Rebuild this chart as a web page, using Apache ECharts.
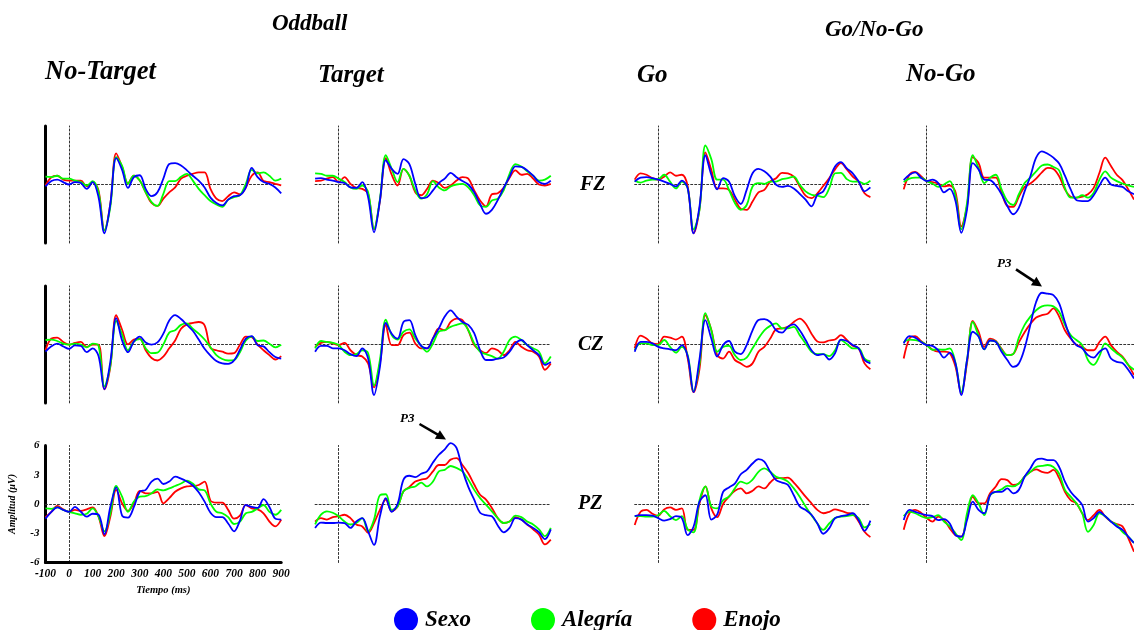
<!DOCTYPE html>
<html><head><meta charset="utf-8">
<script src="https://cdn.jsdelivr.net/npm/echarts@6/dist/echarts.min.js"></script>
<style>html,body{margin:0;padding:0;background:#fff}#c{width:1134px;height:630px}</style>
</head><body><div id="c"></div>
<script>
// ---------- DATA ----------
const TIME = [-100,-75,-50,-25,0,25,50,75,100,125,150,175,200,225,250,275,300,325,350,375,400,425,450,475,500,525,550,575,600,625,650,675,700,725,750,775,800,825,850,875,900];
const SERIES_NAMES = ['Sexo','Alegría','Enojo'];
const COLUMN_TITLES = ['No-Target','Target','Go','No-Go'];
const GROUP_TITLES = ['Oddball','Go/No-Go'];
const ROW_TITLES = ['FZ','CZ','PZ'];
const TIME_TICKS = [-100,0,100,200,300,400,500,600,700,800,900];
const AMP_TICKS = [-6,-3,0,3,6];
const ANNOTATION = 'P3';

// FZ – No-Target
const fzNtSexo    = [-0.2,0.35,0.5,0.25,0,0.25,0.15,-0.45,0.25,-1.3, -5.0,-2.0,2.7,1.5,-0.35,0.75,0.95,-0.45,-1.2,-0.8,0.6,2.1,2.2,1.95, 1.45,0.9,0.4,-0.3,-1.35,-1.9,-2.15,-1.55,-1.2,-1.1,-0.3,1.7,0.75,0.25,0.07,-0.3,-0.9];
const fzNtAlegria = [0.8,0.75,0.9,0.6,0.6,0.4,0.25,-0.1,0.35,-0.8, -4.7,-2.3,2.8,1.9,0.07,0.9,0.4,-0.8,-1.8,-2.2,-0.95,0.35,0.35,0.8, 1.1,0.4,-0.45,-1.1,-1.7,-2.05,-2.3,-1.55,-1.3,-1.1,0.07,1.5,1.15,1.25,0.9,0.4,0.6];
const fzNtEnojo   = [-0.1,0.75,0.9,0.5,0.4,0.4,0.4,-0.2,0.25,-0.6, -4.7,-2.0,3.2,1.8,0.1,0.9,0.4,-0.8,-1.9,-2.2,-1.45,-0.8,-0.3,0.6, 0.9,1.1,1.25,1.25,-0.45,-1.45,-1.7,-1.2,-0.8,-1.0,-0.3,0.9,1.25,0.35,0.25,0.07,-0.1];
// CZ – No-Target
const czNtSexo    = [-0.75,-0.2,0.07,-0.2,-0.45,-0.1,-0.15,-0.8,-0.4,-1.2, -4.6,-1.8,2.7,0.4,-0.8,0.3,0.8,0.2,-0.03,0.2,1.1,2.45,3.0,2.6, 2.0,1.4,0.5,-0.45,-1.15,-1.7,-1.95,-2.0,-1.65,-0.55,0.6,0.85,-0.1,-0.2,-0.8,-1.3,-1.45];
const czNtAlegria = [0.45,0.5,0.35,0.07,-0.03,0.07,-0.03,-0.3,0.07,-0.15, -4.3,-2.2,2.4,1.0,-0.6,0.3,0.55,-0.4,-0.9,-0.85,0.0,1.2,1.45,2.0, 2.15,1.6,1.1,0.5,-0.3,-1.1,-1.5,-1.65,-1.6,-0.8,0.4,0.8,0.35,0.4,0.07,-0.3,-0.03];
const czNtEnojo   = [-0.6,0.6,0.7,0.25,-0.03,0.15,0.25,-0.25,-0.03,-0.03, -4.6,-2.3,3.0,1.5,0.0,0.5,0.6,-0.6,-1.4,-1.65,-1.25,-0.4,0.4,1.6, 2.05,2.2,2.3,1.95,-0.35,-0.6,-0.75,-0.95,-0.9,-0.03,0.8,0.75,-0.03,-0.6,-1.1,-1.55,-1.2];
// PZ – No-Target
const pzNtSexo    = [-1.5,-0.8,-0.35,-0.6,-0.8,-0.3,-0.8,-1.3,-1.0,-1.1, -3.1,-0.3,1.7,-1.2,-1.4,-0.3,1.25,1.45,2.3,2.6,2.05,2.3,2.8,2.6, 2.3,1.9,1.2,0.24,-0.9,-1.35,-1.35,-2.0,-2.8,-1.7,-0.1,-0.3,-0.4,0.5,-0.3,-1.5,-1.6];
const pzNtAlegria = [-0.45,-0.5,-0.35,-0.6,-0.8,-0.95,-1.1,-1.0,-0.45,-1.3, -2.8,-1.0,1.85,0.75,-0.8,0.25,0.75,0.8,1.1,1.5,1.4,1.6,1.85,2.1, 2.4,2.1,1.5,1.4,0.07,-0.8,-0.95,-1.35,-2.05,-1.8,-0.95,-0.8,-0.45,-0.1,-0.8,-1.1,-0.6];
const pzNtEnojo   = [-1.35,-0.8,-0.2,-0.55,-0.8,-0.6,-0.7,-0.55,-0.35,-1.3, -3.3,-1.3,1.45,0.07,-0.7,0.07,1.35,1.1,1.1,1.25,0.07,0.6,1.25,1.6, 1.8,1.85,1.95,2.3,0.35,0.15,0.15,-0.6,-1.5,-1.2,-0.1,-0.45,-0.55,-0.95,-1.8,-2.3,-1.6];

// FZ – Target
const fzTSexo     = [0.6,0.65,0.5,0.4,0.25,0.15,-0.3,-0.35,0.25,-1.3, -4.9,-1.65,2.5,1.6,1.1,2.6,2.1,0.07,-1.4,-1.3,-0.6,0.15,0.6,1.2, 0.75,0.35,0.0,-0.8,-2.0,-3.0,-2.6,-1.6,-0.35,0.8,1.85,1.8,1.45,0.9,0.25,0.07,0.4];
const fzTAlegria  = [1.15,1.1,0.9,0.9,0.6,0.25,-0.3,-0.45,-0.1,-0.8, -4.55,-1.5,3.0,1.6,0.25,1.6,0.9,-0.6,-1.45,-1.0,0.35,-0.3,-0.6,-0.2, 0.0,0.07,-0.3,-1.1,-2.15,-2.3,-1.65,-1.45,-0.6,1.1,2.1,1.85,1.35,0.9,0.4,0.5,0.9];
const fzTEnojo    = [0.35,0.4,0.6,0.75,0.25,0.75,0.07,-0.35,-0.45,-0.95, -4.6,-1.7,2.7,1.0,-0.1,1.6,0.9,-0.8,-1.1,-0.45,0.4,0.15,-0.35,-0.1, 0.4,0.75,0.6,-0.6,-1.65,-2.25,-1.0,-0.9,-0.35,0.7,1.45,1.0,1.1,0.6,0.0,-0.1,0.07];
// CZ – Target
const czTSexo     = [-0.75,-0.15,-0.15,-0.4,-0.4,-0.6,-1.0,-1.2,-0.4,-1.45, -5.2,-2.3,2.2,1.1,0.6,2.3,2.5,0.95,-0.15,-0.4,0.6,1.65,2.85,3.5, 2.85,2.3,2.0,1.15,-0.6,-1.6,-1.6,-1.45,-1.35,-0.75,0.1,0.45,-0.07,-0.6,-1.1,-2.1,-1.8];
const czTAlegria  = [-0.4,0.35,0.25,0.15,-0.07,-0.75,-1.1,-1.0,-0.6,-0.9, -4.2,-1.6,2.55,0.95,0.5,1.3,1.55,0.6,-0.15,-0.75,0.1,1.3,1.45,1.8, 2.0,2.15,1.45,0.1,-0.75,-1.0,-1.2,-1.45,-0.75,0.45,0.8,0.45,-0.07,-0.4,-0.75,-1.95,-1.25];
const czTEnojo    = [-0.25,0.15,0.25,0.1,-0.07,0.15,-0.6,-1.1,-1.25,-1.95, -4.4,-1.95,2.0,-0.07,-0.07,0.95,1.2,0.1,-0.4,-0.4,0.6,1.65,1.45,2.3, 2.65,2.5,1.45,-0.07,-0.6,-0.9,-0.4,-0.6,-1.1,-0.6,0.25,-0.25,-0.6,-0.75,-1.25,-2.6,-1.95];
// PZ – Target
const pzTSexo     = [-2.45,-1.9,-1.95,-1.95,-1.9,-1.95,-2.45,-1.8,-1.45,-2.8, -4.2,-1.25,0.6,-0.8,0.0,2.5,2.9,2.75,3.1,3.35,4.25,5.05,5.6,6.25, 5.75,3.5,1.75,0.45,-0.9,-1.15,-1.25,-2.2,-2.9,-2.45,-1.45,-1.6,-2.1,-2.45,-2.9,-3.6,-2.6];
const pzTAlegria  = [-2.1,-1.1,-0.75,-0.9,-1.25,-1.8,-2.1,-1.95,-1.45,-2.8, -1.6,0.9,1.0,-0.6,-0.25,1.3,1.65,1.8,2.2,1.8,2.3,3.35,3.5,3.9, 3.7,3.35,2.5,1.45,0.6,-0.07,-0.75,-1.45,-1.95,-1.8,-1.2,-1.35,-1.8,-2.1,-2.6,-3.3,-2.45];
const pzTEnojo    = [-1.8,-1.45,-1.6,-1.35,-1.25,-1.1,-1.45,-2.1,-2.3,-2.95, -1.95,-0.6,0.45,-0.75,-0.25,1.3,1.75,2.3,2.5,2.65,3.35,4.0,4.0,4.55, 4.7,4.0,3.15,2.0,0.95,0.45,-0.4,-1.45,-1.95,-1.8,-1.35,-1.6,-2.1,-2.6,-3.15,-4.15,-3.65];

// FZ – Go
const fzGoSexo    = [0.3,0.7,0.75,0.65,0.5,0.3,0.07,-0.2,0.4,-0.4, -5.0,-2.25,3.0,1.0,-0.5,0.65,0.3,-1.2,-2.0,-0.55,1.15,1.6,1.35,0.8, -0.03,-0.25,-0.15,-0.4,-0.95,-1.55,-2.25,-1.05,-0.7,0.5,1.85,2.3,1.65,1.15,0.3,-0.7,-0.3];
const fzGoAlegria = [0.4,0.2,0.4,0.5,0.55,1.0,0.3,-0.4,0.3,-0.4, -4.6,-2.6,4.0,2.6,0.5,0.5,-0.55,-1.9,-2.6,-2.1,-0.2,0.15,0.07,0.3, 0.3,0.55,0.65,0.8,-0.03,-0.7,-1.05,-1.15,-1.3,-0.4,1.15,1.2,0.55,0.3,0.3,0.07,0.4];
const fzGoEnojo   = [0.5,1.15,1.0,0.65,0.5,0.8,1.25,0.9,1.0,-0.2, -5.0,-2.5,3.3,1.5,-0.4,-0.4,-0.55,-1.55,-2.5,-2.6,-1.75,-0.8,-0.55,0.3, 0.65,1.2,1.15,0.8,-0.2,-1.15,-1.4,-0.9,-0.15,0.65,1.55,2.2,1.55,0.8,0.3,-0.9,-1.3];
// CZ – Go
const czGoSexo    = [-0.75,0.25,0.25,0.1,-0.25,-0.4,-0.5,-0.6,-0.07,-1.25, -4.9,-1.5,2.5,0.6,-1.25,-0.07,0.35,-0.75,-1.0,-0.07,1.45,2.5,2.6,2.3, 1.45,1.2,1.8,2.05,1.45,0.45,-0.6,-1.1,-1.0,-1.55,-0.9,0.5,0.35,-0.07,-0.4,-1.6,-1.95];
const czGoAlegria = [-0.6,0.1,0.1,-0.07,-0.07,0.45,-0.25,-0.85,-0.25,-1.1, -4.8,-2.0,3.2,1.45,-0.75,-0.25,-0.15,-1.1,-1.6,-1.35,-0.4,0.6,1.45,1.9, 2.15,1.65,1.65,1.8,0.95,0.1,-0.75,-1.0,-1.0,-1.2,-0.6,0.45,0.03,-0.4,-0.4,-1.45,-1.75];
const czGoEnojo   = [-0.4,0.9,0.6,0.1,0.03,0.8,0.7,0.5,0.8,-1.45, -4.9,-2.5,3.0,1.5,-1.1,-1.45,-0.75,-1.6,-1.95,-2.3,-1.95,-0.75,-0.25,0.6, 1.55,1.65,1.8,2.3,2.65,2.15,1.1,0.3,0.2,0.4,0.5,0.95,0.45,-0.15,-0.4,-1.95,-2.55];
// PZ – Go
const pzGoSexo    = [-1.25,-1.15,-1.15,-1.2,-1.45,-1.7,-1.55,-1.25,-1.45,-3.2, -2.3,0.25,0.9,-1.6,-1.1,1.25,1.7,2.1,3.05,3.5,4.15,4.6,4.35,3.3, 2.45,2.2,1.95,0.9,-0.25,-0.6,-1.1,-2.0,-3.05,-2.5,-1.45,-1.25,-1.15,-0.95,-1.65,-2.75,-1.7];
const pzGoAlegria = [-1.25,-1.25,-1.3,-1.3,-1.15,-0.7,-1.25,-1.65,-1.25,-2.6, -2.9,0.4,1.8,-0.25,-0.45,0.4,0.75,1.6,2.3,2.1,2.5,3.3,3.65,3.3, 2.8,2.6,2.3,1.6,0.75,-0.25,-1.15,-2.0,-2.65,-2.0,-1.45,-1.3,-1.25,-1.15,-1.45,-2.4,-2.05];
const pzGoEnojo   = [-2.15,-0.8,-0.6,-1.0,-1.2,-0.55,-0.35,-0.6,-0.45,-2.65, -2.65,0.07,1.8,-0.45,-1.35,0.0,0.75,1.35,1.6,1.1,1.35,1.8,1.6,2.2, 2.65,2.65,2.7,2.2,1.5,0.75,0.07,-0.6,-0.95,-0.8,-0.55,-0.7,-0.9,-1.0,-1.8,-2.85,-3.4];

// FZ – No-Go
const fzNgSexo    = [0.45,1.0,1.25,0.7,0.35,0.5,0.15,-0.8,-0.45,-1.7, -4.95,-2.55,2.2,1.55,0.5,0.45,-0.1,-1.0,-2.2,-3.05,-2.4,-0.7,0.85,2.75, 3.4,3.15,2.75,2.15,0.9,-0.5,-1.6,-1.7,-1.7,-1.1,-0.1,0.7,0.0,-0.15,-0.25,-0.7,-1.0];
const fzNgAlegria = [0.25,0.6,0.7,0.7,0.35,0.1,-0.25,0.0,0.35,-1.2, -4.6,-1.9,3.0,1.7,0.15,0.7,1.0,-0.5,-1.7,-2.1,-1.0,0.15,0.7,1.35, 1.95,2.05,1.8,1.45,-0.35,-1.35,-1.35,-1.1,-1.35,-0.85,0.5,1.35,0.7,0.35,0.1,-0.1,-0.25];
const fzNgEnojo   = [-0.5,1.0,1.3,0.85,0.35,0.25,0.1,-0.2,-0.1,-0.8, -4.3,-2.2,2.8,2.2,0.7,0.7,0.7,-0.85,-2.2,-2.3,-1.25,-0.25,0.1,0.6, 1.25,1.7,1.6,0.85,-0.5,-1.25,-1.35,-1.25,-1.0,-0.35,1.2,2.75,1.9,1.0,0.45,-0.5,-1.55];
// CZ – No-Go
const czNgSexo    = [0.1,0.85,0.7,0.25,-0.07,-0.15,-0.6,-1.35,-0.85,-1.95, -5.2,-1.6,1.3,0.8,-0.5,0.4,0.25,-0.75,-1.6,-2.3,-1.95,-0.4,2.0,4.35, 5.3,5.2,5.05,4.2,2.3,0.7,-0.07,-0.4,-1.1,-1.35,-0.75,-0.4,-1.45,-1.8,-1.9,-2.6,-3.5];
const czNgAlegria = [0.25,0.5,0.45,0.3,-0.07,-0.55,-0.5,-0.55,-0.4,-1.9, -4.9,-1.6,2.3,0.9,-0.5,0.4,0.3,-0.55,-1.1,-1.0,0.7,2.0,2.85,3.5, 3.9,4.0,3.9,3.35,2.0,0.95,0.45,-0.07,-1.6,-2.1,-1.2,0.1,-0.4,-0.9,-1.35,-2.1,-2.6];
const czNgEnojo   = [-1.45,0.6,0.85,0.35,-0.07,-0.55,-0.75,-0.75,-0.9,-2.3, -5.0,-1.9,2.4,1.3,-0.25,0.6,0.35,-0.45,-1.1,-1.0,0.2,1.25,2.1,2.75, 3.0,3.15,3.7,2.85,1.45,0.6,-0.07,-0.25,-0.6,-0.6,0.25,0.8,-0.07,-0.75,-1.25,-2.1,-3.15];
// PZ – No-Go
const pzNgSexo    = [-1.65,-0.6,-0.8,-1.0,-1.15,-1.25,-1.65,-1.55,-2.0,-3.2, -3.35,-1.65,0.25,-0.6,-0.95,0.9,1.25,1.25,1.6,1.1,1.45,2.8,3.65,4.55, 4.65,4.5,4.5,3.8,2.3,1.25,0.6,-0.1,-1.8,-1.45,-0.8,-1.25,-1.8,-2.3,-2.65,-3.35,-4.0];
const pzNgAlegria = [-1.25,-0.8,-0.95,-1.25,-1.45,-1.35,-1.15,-1.8,-2.3,-3.0, -3.7,-0.95,0.9,0.07,-1.15,0.9,1.25,1.5,1.85,1.8,2.1,2.8,3.3,3.8, 3.9,4.0,3.8,3.1,1.45,0.75,0.07,-0.95,-2.85,-2.15,-0.95,-1.25,-1.8,-2.15,-2.85,-3.35,-4.0];
const pzNgEnojo   = [-2.65,-0.95,-0.6,-0.9,-1.45,-1.8,-1.3,-1.65,-2.5,-3.2, -3.35,-1.3,0.75,0.07,0.07,1.1,1.8,2.55,2.45,1.95,2.1,2.8,3.3,3.55, 3.3,3.2,3.5,2.65,1.25,0.4,0.07,-0.95,-1.65,-1.15,-0.6,-1.3,-1.8,-2.05,-2.3,-3.5,-4.9];

// ---------- LAYOUT / STYLE ----------
const COLORS = {'Sexo':'#0000ff','Alegría':'#00ff00','Enojo':'#ff0000'};
const DRAW_ORDER = ['Enojo','Alegría','Sexo'];
const FONT = '"Liberation Serif","Times New Roman",serif';
const COL_LEFT = [45.5, 315.1, 634.7, 903.7];
const COL_WIDTH = 235.7;
const ROW_ZERO = [184.5, 344.4, 504];
const HALF_H = 58.5;

const PANELS = [
  [[fzNtSexo,fzNtAlegria,fzNtEnojo],[fzTSexo,fzTAlegria,fzTEnojo],[fzGoSexo,fzGoAlegria,fzGoEnojo],[fzNgSexo,fzNgAlegria,fzNgEnojo]],
  [[czNtSexo,czNtAlegria,czNtEnojo],[czTSexo,czTAlegria,czTEnojo],[czGoSexo,czGoAlegria,czGoEnojo],[czNgSexo,czNgAlegria,czNgEnojo]],
  [[pzNtSexo,pzNtAlegria,pzNtEnojo],[pzTSexo,pzTAlegria,pzTEnojo],[pzGoSexo,pzGoAlegria,pzGoEnojo],[pzNgSexo,pzNgAlegria,pzNgEnojo]]
];

const dotted = {color:'#333', width:1, type:[2,2]};
const grids=[], xAxes=[], yAxes=[], series=[];
for (let r=0;r<3;r++){
  for (let c=0;c<4;c++){
    const g = grids.length;
    grids.push({left:COL_LEFT[c], width:COL_WIDTH, top:ROW_ZERO[r]-HALF_H, height:2*HALF_H, containLabel:false});
    const xi = xAxes.length, yi = yAxes.length;
    xAxes.push({type:'value', gridIndex:g, min:TIME[0], max:TIME[TIME.length-1],
      axisLine:{onZero:true, lineStyle:dotted}, axisTick:{show:false}, axisLabel:{show:false}, splitLine:{show:false}});
    yAxes.push({type:'value', gridIndex:g, min:AMP_TICKS[0], max:AMP_TICKS[AMP_TICKS.length-1], position:'left',
      axisLine:{onZero:true, lineStyle:dotted}, axisTick:{show:false}, axisLabel:{show:false}, splitLine:{show:false}});
    if (c===0){
      const labelled = (r===2);
      yAxes.push({type:'value', gridIndex:g, min:AMP_TICKS[0], max:AMP_TICKS[AMP_TICKS.length-1], interval:3, position:'left',
        axisLine:{onZero:false, lineStyle:{color:'#000', width:3}}, axisTick:{show:false}, splitLine:{show:false},
        axisLabel:{show:labelled, margin:6, color:'#000', fontFamily:FONT, fontStyle:'italic', fontWeight:'bold', fontSize:11},
        name: labelled ? 'Amplitud (µV)' : '', nameLocation:'middle', nameGap:28, nameRotate:90,
        nameTextStyle:{color:'#000', fontFamily:FONT, fontStyle:'italic', fontWeight:'bold', fontSize:10}});
      if (labelled){
        xAxes.push({type:'value', gridIndex:g, min:TIME[0], max:TIME[TIME.length-1], interval:100, position:'bottom',
          axisLine:{onZero:false, lineStyle:{color:'#000', width:3}}, axisTick:{show:false}, splitLine:{show:false},
          axisLabel:{margin:6, color:'#000', fontFamily:FONT, fontStyle:'italic', fontWeight:'bold', fontSize:11.5},
          name:'Tiempo (ms)', nameLocation:'middle', nameGap:22,
          nameTextStyle:{color:'#000', fontFamily:FONT, fontStyle:'italic', fontWeight:'bold', fontSize:10.5}});
      }
    }
    const sets = PANELS[r][c];
    DRAW_ORDER.forEach(name=>{
      const arr = sets[SERIES_NAMES.indexOf(name)];
      series.push({type:'line', name, xAxisIndex:xi, yAxisIndex:yi, smooth:0.35, showSymbol:false, clip:false,
        silent:true, animation:false, lineStyle:{color:COLORS[name], width:1.8}, itemStyle:{color:COLORS[name]},
        data: TIME.map((t,i)=>[t, arr[i]])});
    });
  }
}

function txt(x,y,text,size){
  return {type:'text', x, y, silent:true,
    style:{text, fill:'#000', font:`italic bold ${size}px ${FONT}`, textAlign:'left', align:'left', textVerticalAlign:'middle', verticalAlign:'middle'}};
}
function arrow(x1,y1,x2,y2){
  const dx=x2-x1, dy=y2-y1, L=Math.hypot(dx,dy), ux=dx/L, uy=dy/L, hl=10, hw=5;
  const bx=x2-ux*hl, by=y2-uy*hl;
  return [
    {type:'line', silent:true, shape:{x1,y1,x2:bx+ux*2,y2:by+uy*2}, style:{stroke:'#000', lineWidth:2.6}},
    {type:'polygon', silent:true, shape:{points:[[x2,y2],[bx-uy*hw,by+ux*hw],[bx+uy*hw,by-ux*hw]]}, style:{fill:'#000'}}
  ];
}
const graphic = [
  txt(272,24,GROUP_TITLES[0],23), txt(825,30,GROUP_TITLES[1],23),
  txt(45,72,COLUMN_TITLES[0],26.5), txt(318,76,COLUMN_TITLES[1],25), txt(637,76,COLUMN_TITLES[2],25), txt(906,75,COLUMN_TITLES[3],25),
  txt(580,185,ROW_TITLES[0],20), txt(578,345,ROW_TITLES[1],20), txt(578,504,ROW_TITLES[2],20),
  txt(400,418.5,ANNOTATION,13), txt(997,263.3,ANNOTATION,13),
  ...arrow(419.5,424,446,439.5), ...arrow(1016,269.3,1042,286.5)
];

const chart = echarts.init(document.getElementById('c'), null, {renderer:'canvas'});
chart.setOption({
  backgroundColor:'#fff', animation:false,
  grid:grids, xAxis:xAxes, yAxis:yAxes, series,
  legend:{data:SERIES_NAMES, left:389, top:603, icon:'circle', itemWidth:24, itemHeight:24, itemGap:60, selectedMode:false,
    textStyle:{color:'#000', fontFamily:FONT, fontStyle:'italic', fontWeight:'bold', fontSize:23, padding:[0,0,0,2]}},
  graphic
});
</script></body></html>
